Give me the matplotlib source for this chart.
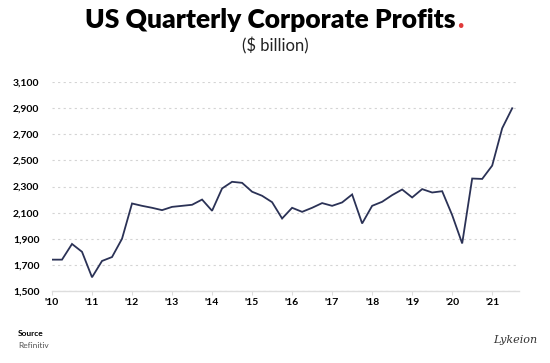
import matplotlib.pyplot as plt
from matplotlib.ticker import FuncFormatter

# quarterly corporate profits, $ billion, Q1 2010 .. Q3 2021
years = list(range(2010, 2022))
profits = [
    1740, 1740, 1860, 1800,   # 2010
    1605, 1730, 1760, 1900,   # 2011
    2170, 2152, 2137, 2119,   # 2012
    2144, 2152, 2160, 2200,   # 2013
    2114, 2285, 2336, 2328,   # 2014
    2260, 2229, 2180, 2055,   # 2015
    2137, 2106, 2137, 2173,   # 2016
    2152, 2178, 2239, 2017,   # 2017
    2152, 2183, 2234, 2277,   # 2018
    2216, 2280, 2254, 2264,   # 2019
    2081, 1864, 2361, 2358,   # 2020
    2460, 2746, 2899,         # 2021
]
quarters = [2010 + i / 4 for i in range(len(profits))]
y_ticks = list(range(1500, 3101, 200))

plt.rcParams["font.family"] = ["Lato", "DejaVu Sans"]

fig = plt.figure(figsize=(5.5, 3.63), dpi=100)
ax = fig.add_axes([52 / 550, 1 - 291 / 363, (519 - 52) / 550, (291 - 82) / 363])

ax.plot(quarters, profits, color="#2b3256", linewidth=1.3, solid_joinstyle="miter")

ax.set_xlim(2010, 2021.67)
ax.set_ylim(1500, 3100)
ax.set_xticks(years)
ax.set_xticklabels(["'%02d" % (y % 100) for y in years])
ax.set_yticks(y_ticks)
ax.yaxis.set_major_formatter(FuncFormatter(lambda v, p: f"{int(v):,}"))

for s in ["top", "right", "left"]:
    ax.spines[s].set_visible(False)
ax.spines["bottom"].set_color("#dddddd")
ax.spines["bottom"].set_linewidth(1)

ax.grid(axis="y", color="#d4d4d4", linestyle=(0, (2, 3)), linewidth=0.8)
ax.set_axisbelow(True)
ax.tick_params(axis="y", length=0, pad=9, labelsize=7.5)
ax.tick_params(axis="x", length=3, color="#dddddd", pad=2, labelsize=7.5)
for lab in ax.get_xticklabels() + ax.get_yticklabels():
    lab.set_fontweight("bold")

# title with red full stop
title = fig.text(0.5 - 0.008, 1 - 20 / 363, "US Quarterly Corporate Profits", ha="center",
                 va="center", fontsize=19, fontweight="heavy", color="black")
fig.canvas.draw()
bb = title.get_window_extent(fig.canvas.get_renderer())
fig.text((bb.x1 + 1) / fig.bbox.width, 1 - 20 / 363, ".", ha="left", va="center",
         fontsize=19, fontweight="heavy", color="#e03a3a")
fig.text(0.5, 1 - 46 / 363, "($ billion)", ha="center", va="center",
         fontsize=12, color="#222222")

fig.text(18 / 550, 1 - 334 / 363, "Source", fontsize=6, fontweight="bold", va="center")
fig.text(18 / 550, 1 - 345 / 363, "Refinitiv", fontsize=6, color="#555555", va="center")
fig.text(515 / 550, 1 - 340 / 363, "Lykeion", fontsize=8, family="DejaVu Serif",
         style="italic", ha="center", va="center", color="#333333")

fig.savefig("out.png", dpi=100, facecolor="white")
